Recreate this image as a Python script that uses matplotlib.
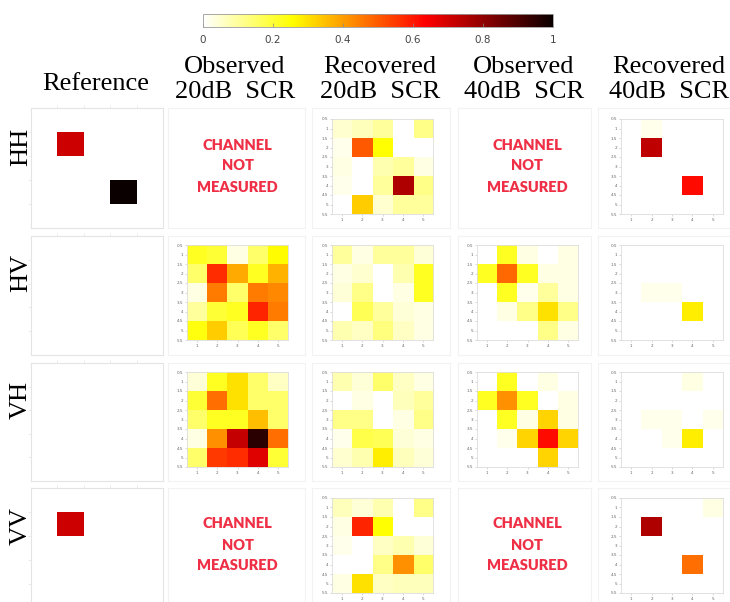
import numpy as np
import matplotlib
matplotlib.use("Agg")
import matplotlib.pyplot as plt
from matplotlib import cm, colors

# ---- data -------------------------------------------------------------
channels = ["HH", "HV", "VH", "VV"]
col_titles = [("Observed", "20dB  SCR"), ("Recovered", "20dB  SCR"),
              ("Observed", "40dB  SCR"), ("Recovered", "40dB  SCR")]
cbar_ticks = [0, 0.2, 0.4, 0.6, 0.8, 1]
cbar_labels = ["0", "0.2", "0.4", "0.6", "0.8", "1"]
x_ticks = [1, 2, 3, 4, 5]
y_ticks = [0.5, 1, 1.5, 2, 2.5, 3, 3.5, 4, 4.5, 5, 5.5]
y_tick_labels = ["0.5", "1", "1.5", "2", "2.5", "3", "3.5", "4", "4.5", "5", "5.5"]

ref_HH = [[0, 0, 0, 0, 0],
          [0, 0.71, 0, 0, 0],
          [0, 0, 0, 0, 0],
          [0, 0, 0, 1.0, 0],
          [0, 0, 0, 0, 0]]
ref_HV = [[0] * 5 for _ in range(5)]
ref_VH = [[0] * 5 for _ in range(5)]
ref_VV = [[0, 0, 0, 0, 0],
          [0, 0.71, 0, 0, 0],
          [0, 0, 0, 0, 0],
          [0, 0, 0, 0, 0],
          [0, 0, 0, 0, 0]]

obs20_HV = [[0.22, 0.20, 0.03, 0.15, 0.26],
            [0.15, 0.57, 0.38, 0.22, 0.37],
            [0.03, 0.45, 0.15, 0.45, 0.43],
            [0.10, 0.20, 0.22, 0.58, 0.45],
            [0.24, 0.33, 0.17, 0.22, 0.15]]
obs20_VH = [[0.04, 0.22, 0.30, 0.15, 0.06],
            [0.20, 0.47, 0.30, 0.15, 0.15],
            [0.15, 0.22, 0.22, 0.35, 0.15],
            [0.03, 0.42, 0.72, 0.95, 0.47],
            [0.15, 0.55, 0.57, 0.68, 0.20]]

rec20_HH = [[0.05, 0.07, 0.10, 0.00, 0.12],
            [0.02, 0.50, 0.25, 0.00, 0.00],
            [0.03, 0.00, 0.08, 0.10, 0.03],
            [0.02, 0.00, 0.10, 0.75, 0.12],
            [0.00, 0.33, 0.05, 0.10, 0.10]]
rec20_HV = [[0.10, 0.03, 0.10, 0.10, 0.04],
            [0.03, 0.05, 0.00, 0.08, 0.22],
            [0.04, 0.12, 0.00, 0.03, 0.22],
            [0.00, 0.17, 0.10, 0.04, 0.03],
            [0.08, 0.06, 0.13, 0.06, 0.03]]
rec20_VH = [[0.08, 0.04, 0.15, 0.06, 0.03],
            [0.00, 0.03, 0.00, 0.07, 0.10],
            [0.12, 0.12, 0.00, 0.03, 0.12],
            [0.02, 0.18, 0.17, 0.04, 0.03],
            [0.05, 0.08, 0.28, 0.07, 0.04]]
rec20_VV = [[0.07, 0.04, 0.08, 0.00, 0.12],
            [0.03, 0.58, 0.25, 0.00, 0.00],
            [0.02, 0.00, 0.06, 0.08, 0.04],
            [0.00, 0.00, 0.12, 0.42, 0.15],
            [0.03, 0.30, 0.06, 0.07, 0.07]]

obs40_HV = [[0.00, 0.22, 0.03, 0.00, 0.03],
            [0.22, 0.48, 0.22, 0.03, 0.03],
            [0.00, 0.22, 0.02, 0.10, 0.03],
            [0.00, 0.03, 0.12, 0.30, 0.12],
            [0.00, 0.00, 0.00, 0.12, 0.03]]
obs40_VH = [[0.00, 0.22, 0.00, 0.03, 0.00],
            [0.22, 0.42, 0.22, 0.00, 0.03],
            [0.00, 0.22, 0.03, 0.32, 0.03],
            [0.00, 0.02, 0.32, 0.62, 0.32],
            [0.00, 0.00, 0.00, 0.32, 0.00]]

rec40_HH = [[0.00, 0.02, 0.00, 0.00, 0.00],
            [0.00, 0.73, 0.00, 0.00, 0.00],
            [0.00, 0.00, 0.00, 0.00, 0.00],
            [0.00, 0.00, 0.00, 0.62, 0.00],
            [0.00, 0.00, 0.00, 0.00, 0.00]]
rec40_HV = [[0.00, 0.00, 0.00, 0.00, 0.00],
            [0.00, 0.00, 0.00, 0.00, 0.00],
            [0.00, 0.02, 0.02, 0.00, 0.00],
            [0.00, 0.00, 0.00, 0.28, 0.00],
            [0.00, 0.00, 0.00, 0.00, 0.00]]
rec40_VH = [[0.00, 0.00, 0.00, 0.03, 0.00],
            [0.00, 0.00, 0.00, 0.00, 0.00],
            [0.00, 0.02, 0.02, 0.00, 0.02],
            [0.00, 0.00, 0.02, 0.28, 0.00],
            [0.00, 0.00, 0.00, 0.00, 0.00]]
rec40_VV = [[0.00, 0.00, 0.00, 0.00, 0.03],
            [0.00, 0.75, 0.00, 0.00, 0.00],
            [0.00, 0.00, 0.00, 0.00, 0.00],
            [0.00, 0.00, 0.00, 0.47, 0.00],
            [0.00, 0.00, 0.00, 0.00, 0.00]]

reference = [ref_HH, ref_HV, ref_VH, ref_VV]
panels = [
    [None, rec20_HH, None, rec40_HH],
    [obs20_HV, rec20_HV, obs40_HV, rec40_HV],
    [obs20_VH, rec20_VH, obs40_VH, rec40_VH],
    [None, rec20_VV, None, rec40_VV],
]

# ---- layout (pixels on a 730 x 602 canvas) ----------------------------
W, H = 730, 602
cmap = plt.get_cmap("hot_r")
norm = colors.Normalize(0, 1)
serif = ["Liberation Serif", "DejaVu Serif"]

fig = plt.figure(figsize=(W / 100, H / 100), dpi=100)
fig.patch.set_facecolor("white")


def rect(x0, y0, x1, y1):
    return [x0 / W, 1 - y1 / H, (x1 - x0) / W, (y1 - y0) / H]


frame_cols = [(31, 163), (168, 305), (312, 450), (458, 591), (598, 730)]
frame_rows = [(108, 228), (236, 355), (363, 481), (488, 608)]
inner_cols = [(187, 288), (332, 433), (477, 578), (621, 723)]
inner_rows = [(119, 214), (245, 340), (372, 467), (498, 593)]
frame_color = "#e4e4e4"

# colour bar
cax = fig.add_axes(rect(203, 14, 553, 27))
cb = fig.colorbar(cm.ScalarMappable(norm=norm, cmap=cmap), cax=cax,
                  orientation="horizontal", ticks=cbar_ticks)
cb.ax.set_xticklabels(cbar_labels)
cb.outline.set_edgecolor("#9a9a9a")
cb.outline.set_linewidth(0.6)
cax.tick_params(axis="x", direction="in", length=3, width=0.5,
                color="#888888", labelsize=7.5, labelcolor="#444444", pad=6)

# column titles
fig.text(96 / W, 1 - 90 / H, "Reference", ha="center", va="baseline",
         family=serif, fontsize=19)
title_x = [235, 380, 524, 669]
for cx, (l1, l2) in zip(title_x, col_titles):
    fig.text(cx / W, 1 - 73 / H, l1, ha="center", va="baseline",
             family=serif, fontsize=19)
    fig.text(cx / W, 1 - 98 / H, l2, ha="center", va="baseline",
             family=serif, fontsize=19)

# row labels
label_y = [147, 273, 400, 526]
for name, ly in zip(channels, label_y):
    fig.text(21 / W, 1 - ly / H, name, ha="center", va="center",
             rotation=90, family=serif, fontsize=19)

for r, (ry0, ry1) in enumerate(frame_rows):
    # reference panel: the image fills the whole frame
    fx0, fx1 = frame_cols[0]
    ax = fig.add_axes(rect(fx0, ry0, fx1, ry1))
    ax.imshow(np.array(reference[r]), cmap=cmap, norm=norm,
              interpolation="nearest", aspect="auto")
    ax.set_xticks([0.5, 1.5, 2.5, 3.5])
    ax.set_yticks([0.5, 1.5, 2.5, 3.5])
    ax.tick_params(top=True, bottom=False, labelbottom=False,
                   labelleft=False, length=2, width=0.5, color=frame_color)
    for s in ax.spines.values():
        s.set_edgecolor(frame_color)
        s.set_linewidth(0.8)

    for c in range(4):
        fx0, fx1 = frame_cols[c + 1]
        frame = fig.add_axes(rect(fx0, ry0, fx1, ry1))
        frame.set_xticks([])
        frame.set_yticks([])
        frame.patch.set_alpha(0)
        for s in frame.spines.values():
            s.set_edgecolor("#f2f2f2")
            s.set_linewidth(0.8)

        data = panels[r][c]
        if data is None:
            cx = (inner_cols[c][0] + inner_cols[c][1]) / 2
            top = inner_rows[r][0]
            for k, word in enumerate(["CHANNEL", "NOT", "MEASURED"]):
                fig.text(cx / W, 1 - (top + 26 + 21 * k) / H, word,
                         ha="center", va="center", color="#ee2f45",
                         fontsize=10.5, fontweight="heavy",
                         family=["Lato", "DejaVu Sans"])
            continue

        ix0, ix1 = inner_cols[c]
        iy0, iy1 = inner_rows[r]
        ax = fig.add_axes(rect(ix0, iy0, ix1, iy1))
        ax.imshow(np.array(data), cmap=cmap, norm=norm,
                  interpolation="nearest", aspect="auto",
                  extent=(0.5, 5.5, 5.5, 0.5))
        ax.set_xticks(x_ticks)
        ax.set_yticks(y_ticks)
        ax.set_yticklabels(y_tick_labels)
        ax.tick_params(labelsize=3, labelcolor="#666666", length=1.2,
                       width=0.4, color="#bbbbbb", pad=1.5)
        for s in ax.spines.values():
            s.set_edgecolor("#dddddd")
            s.set_linewidth(0.6)

fig.savefig("out.png", dpi=100, facecolor="white")
